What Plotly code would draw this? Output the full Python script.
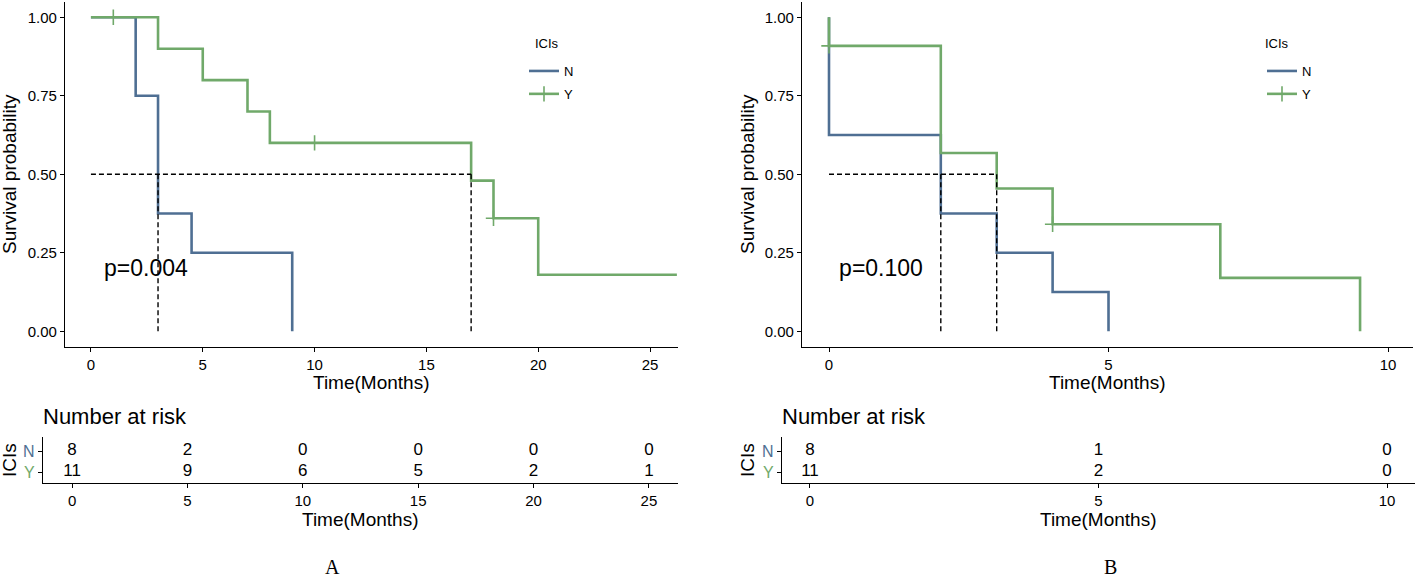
import plotly.graph_objects as go

W, H = 1417, 579
BLUE = "#4f6f93"
GREEN = "#70a96a"
FONT = "Liberation Sans, Arial, sans-serif"

# ---------------- data: panel A ----------------
a_n_time = [0, 2, 3, 4.5, 9]
a_n_surv = [1.0, 0.75, 0.375, 0.25, 0.0]
a_y_time = [0, 3, 5, 7, 8, 17, 18, 20, 26.2]
a_y_surv = [1.0, 0.9, 0.8, 0.7, 0.6, 0.48, 0.36, 0.18, 0.18]
a_y_cens_time = [1, 10, 18]
a_y_cens_surv = [1.0, 0.6, 0.36]
a_medians = [3, 17]
a_pval = "p=0.004"
a_risk_times = [0, 5, 10, 15, 20, 25]
a_risk_n = [8, 2, 0, 0, 0, 0]
a_risk_y = [11, 9, 6, 5, 2, 1]

# ---------------- data: panel B ----------------
b_n_time = [0, 0, 2, 3, 4, 5]
b_n_surv = [1.0, 0.625, 0.375, 0.25, 0.125, 0.0]
b_y_time = [0, 0, 2, 3, 4, 7, 9.5]
b_y_surv = [1.0, 0.909, 0.568, 0.455, 0.341, 0.170, 0.0]
b_y_cens_time = [0, 4]
b_y_cens_surv = [0.909, 0.341]
b_medians = [2, 3]
b_pval = "p=0.100"
b_risk_times = [0, 5, 10]
b_risk_n = [8, 1, 0]
b_risk_y = [11, 2, 0]

groups = ["N", "Y"]
legend_title = "ICIs"
y_ticks = [0, 0.25, 0.5, 0.75, 1.0]


def px(x):
    return x / W


def py(y):
    return 1 - y / H


fig = go.Figure()


def add_panel(xa, ya, xr, yr, leg, n_t, n_s, y_t, y_s, c_t, c_s, meds,
              pval, pxy, r_t, r_n, r_y):
    fig.add_trace(go.Scatter(x=n_t, y=n_s, mode="lines", xaxis=xa, yaxis=ya,
                             line=dict(color=BLUE, width=2.6, shape="hv"),
                             showlegend=False, hoverinfo="skip"))
    fig.add_trace(go.Scatter(x=y_t, y=y_s, mode="lines", xaxis=xa, yaxis=ya,
                             line=dict(color=GREEN, width=2.6, shape="hv"),
                             showlegend=False, hoverinfo="skip"))
    fig.add_trace(go.Scatter(x=c_t, y=c_s, mode="markers", xaxis=xa, yaxis=ya,
                             marker=dict(symbol="cross-thin", size=11,
                                         line=dict(color=GREEN, width=1.6)),
                             showlegend=False, hoverinfo="skip"))
    mx = [0, max(meds)]
    my = [0.5, 0.5]
    for m in meds:
        mx += [None, m, m]
        my += [None, 0, 0.5]
    fig.add_trace(go.Scatter(x=mx, y=my, mode="lines", xaxis=xa, yaxis=ya,
                             line=dict(color="black", width=1.4, dash="5px,3px"),
                             showlegend=False, hoverinfo="skip"))
    fig.add_trace(go.Scatter(x=[None], y=[None], mode="lines", name=groups[0],
                             xaxis=xa, yaxis=ya, legend=leg, legendgroup=leg + "n",
                             line=dict(color=BLUE, width=2.6)))
    fig.add_trace(go.Scatter(x=[None], y=[None], mode="lines+markers", name=groups[1],
                             xaxis=xa, yaxis=ya, legend=leg, legendgroup=leg + "y",
                             line=dict(color=GREEN, width=2.6),
                             marker=dict(symbol="cross-thin", size=11,
                                         line=dict(color=GREEN, width=1.6))))
    fig.add_trace(go.Scatter(x=[pxy[0]], y=[pxy[1]], mode="text", text=[pval],
                             xaxis=xa, yaxis=ya, showlegend=False, hoverinfo="skip",
                             textfont=dict(size=23, color="black", family=FONT)))
    fig.add_trace(go.Scatter(x=r_t, y=[2] * len(r_t), mode="text",
                             text=[str(v) for v in r_n], xaxis=xr, yaxis=yr,
                             showlegend=False, hoverinfo="skip",
                             textfont=dict(size=17, color="black", family=FONT)))
    fig.add_trace(go.Scatter(x=r_t, y=[1] * len(r_t), mode="text",
                             text=[str(v) for v in r_y], xaxis=xr, yaxis=yr,
                             showlegend=False, hoverinfo="skip",
                             textfont=dict(size=17, color="black", family=FONT)))


add_panel("x", "y", "x2", "y2", "legend", a_n_time, a_n_surv, a_y_time, a_y_surv,
          a_y_cens_time, a_y_cens_surv, a_medians, a_pval, (2.46, 0.194),
          a_risk_times, a_risk_n, a_risk_y)
add_panel("x3", "y3", "x4", "y4", "legend2", b_n_time, b_n_surv, b_y_time, b_y_surv,
          b_y_cens_time, b_y_cens_surv, b_medians, b_pval, (0.93, 0.194),
          b_risk_times, b_risk_n, b_risk_y)

axis_base = dict(showline=True, linecolor="black", linewidth=1.3, ticks="outside",
                 ticklen=4, tickwidth=1.2, tickcolor="black", showgrid=False,
                 zeroline=False)
tick_font = dict(size=15, color="black", family=FONT)

km_y_dom = [py(347), py(1.6)]
risk_y_dom = [py(483), py(437)]
risk_ticktext = ['<span style="color:%s">%s</span>' % (GREEN, groups[1]),
                 '<span style="color:%s">%s</span>' % (BLUE, groups[0])]

leg_common = dict(xanchor="left", yanchor="top", font=dict(size=13, color="black"),
                  itemwidth=30, bgcolor="rgba(0,0,0,0)", tracegroupgap=3,
                  traceorder="grouped")

fig.update_layout(
    width=W, height=H,
    margin=dict(l=0, r=0, t=0, b=0),
    paper_bgcolor="white", plot_bgcolor="white",
    font=dict(family=FONT, color="black"),
    xaxis=dict(domain=[px(65), px(678)], range=[-1.16, 26.25],
               tickvals=a_risk_times, anchor="y", tickfont=tick_font, **axis_base),
    yaxis=dict(domain=km_y_dom, range=[-0.05, 1.05], tickvals=y_ticks,
               tickformat=".2f", anchor="x", tickfont=tick_font, **axis_base),
    xaxis2=dict(domain=[px(43), px(678)], range=[-1.26, 26.26],
                tickvals=a_risk_times, anchor="y2", tickfont=tick_font, **axis_base),
    yaxis2=dict(domain=risk_y_dom, range=[0.476, 2.667], tickvals=[1, 2],
                ticktext=risk_ticktext, anchor="x2",
                tickfont=dict(size=16, family=FONT), **axis_base),
    xaxis3=dict(domain=[px(802), px(1413)], range=[-0.483, 10.447],
                tickvals=b_risk_times, anchor="y3", tickfont=tick_font, **axis_base),
    yaxis3=dict(domain=km_y_dom, range=[-0.05, 1.05], tickvals=y_ticks,
                tickformat=".2f", anchor="x3", tickfont=tick_font, **axis_base),
    xaxis4=dict(domain=[px(782), px(1415)], range=[-0.485, 10.485],
                tickvals=b_risk_times, anchor="y4", tickfont=tick_font, **axis_base),
    yaxis4=dict(domain=risk_y_dom, range=[0.476, 2.667], tickvals=[1, 2],
                ticktext=risk_ticktext, anchor="x4",
                tickfont=dict(size=16, family=FONT), **axis_base),
    legend=dict(x=px(524), y=py(56), **leg_common),
    legend2=dict(x=px(1262), y=py(56), **leg_common),
)

annots = [
    dict(text="Time(Months)", x=px(371), y=py(383), size=19),
    dict(text="Time(Months)", x=px(1107), y=py(383), size=19),
    dict(text="Survival probability", x=px(10), y=py(174), size=19, angle=-90),
    dict(text="Survival probability", x=px(748), y=py(174), size=19, angle=-90),
    dict(text="Time(Months)", x=px(360), y=py(519), size=19),
    dict(text="Time(Months)", x=px(1098), y=py(519), size=19),
    dict(text=legend_title, x=px(9), y=py(460), size=19, angle=-90),
    dict(text=legend_title, x=px(747), y=py(460), size=19, angle=-90),
]
for a in annots:
    fig.add_annotation(text=a["text"], x=a["x"], y=a["y"], xref="paper", yref="paper",
                       xanchor="center", yanchor="middle", showarrow=False,
                       textangle=a.get("angle", 0),
                       font=dict(size=a["size"], color="black", family=FONT))

for xx in [533, 1263]:
    fig.add_annotation(text=legend_title, x=px(xx), y=py(43), xref="paper", yref="paper",
                       xanchor="left", yanchor="middle", showarrow=False,
                       font=dict(size=13, color="black", family=FONT))

for xx in [41, 780]:
    fig.add_annotation(text="Number at risk", x=px(xx), y=py(416), xref="paper",
                       yref="paper", xanchor="left", yanchor="middle", showarrow=False,
                       font=dict(size=22, color="black", family=FONT))

for txt, xx in [("A", 332), ("B", 1110)]:
    fig.add_annotation(text=txt, x=px(xx), y=py(567), xref="paper", yref="paper",
                       xanchor="center", yanchor="middle", showarrow=False,
                       font=dict(size=20, color="black",
                                 family="Liberation Serif, Times New Roman, serif"))

fig.write_html("out.html", config={"displayModeBar": False},
               post_script="document.body.style.margin='0';")
